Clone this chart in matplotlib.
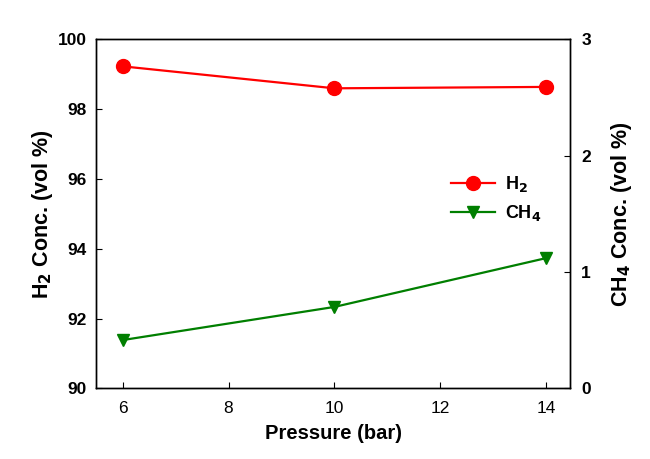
import matplotlib
matplotlib.use("Agg")
import matplotlib.pyplot as plt

plt.rcParams['font.family'] = ['Liberation Sans', 'DejaVu Sans']
plt.rcParams['mathtext.default'] = 'bf'

pressure = [6, 10, 14]
h2_conc = [99.23, 98.60, 98.64]
ch4_conc = [0.415, 0.70, 1.12]
x_ticks = [6, 8, 10, 12, 14]
h2_ticks = [90, 92, 94, 96, 98, 100]
ch4_ticks = [0, 1, 2, 3]

fig = plt.figure(figsize=(6.5, 4.59), dpi=100)
ax = fig.add_axes([0.148, 0.154, 0.729, 0.760])
ax2 = ax.twinx()

l1, = ax.plot(pressure, h2_conc, color='#ff0000', lw=1.6, marker='o', ms=10, label='H$_2$')
l2, = ax2.plot(pressure, ch4_conc, color='#007f00', lw=1.6, marker='v', ms=9, label='CH$_4$')

ax.set_xlim(5.5, 14.45)
ax.set_ylim(90, 100)
ax2.set_ylim(0, 3)
ax.set_xticks(x_ticks)
ax.set_yticks(h2_ticks)
ax2.set_yticks(ch4_ticks)

for a in (ax, ax2):
    a.tick_params(direction='in', length=4, width=0.8, labelsize=12.5)
    for s in a.spines.values():
        s.set_linewidth(1.0)
ax.tick_params(axis='x', pad=9)
ax.tick_params(axis='y', pad=7)
ax2.tick_params(axis='y', pad=8)
for lab in ax.get_yticklabels() + ax2.get_yticklabels():
    lab.set_fontweight('bold')

ax.set_xlabel('Pressure (bar)', fontsize=14.5, fontweight='bold', labelpad=6)
ax.set_ylabel('H$_2$ Conc. (vol %)', fontsize=15.5, fontweight='bold', labelpad=2)
ax2.set_ylabel('CH$_4$ Conc. (vol %)', fontsize=15.5, fontweight='bold', labelpad=13)

leg = ax.legend(handles=[l1, l2], loc='upper left', bbox_to_anchor=(0.715, 0.66),
                frameon=False, fontsize=13, handlelength=2.45, handletextpad=0.55,
                labelspacing=0.5)
for t in leg.get_texts():
    t.set_fontweight('bold')

fig.savefig('out.png', dpi=100)
